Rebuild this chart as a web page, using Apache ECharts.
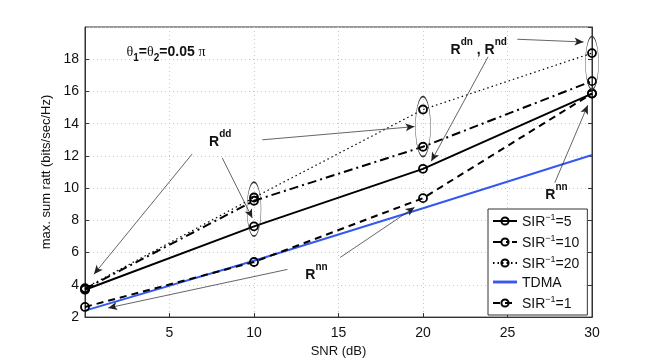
<!DOCTYPE html>
<html>
<head>
<meta charset="utf-8">
<script src="https://cdn.jsdelivr.net/npm/echarts@6/dist/echarts.min.js"></script>
<style>
  html, body { margin: 0; padding: 0; background: #fff; }
  #chart { width: 654px; height: 363px; }
</style>
</head>
<body>
<div id="chart"></div>
<script>
// values
const snr = [0, 10, 20, 30];
const sir5 = [3.7, 7.63, 11.2, 15.87];
const sir10 = [3.75, 9.22, 12.57, 16.64];
const sir20 = [3.8, 9.42, 14.88, 18.38];
const tdma = [2.4, 5.5, 8.75, 12.06];
const sir1 = [2.63, 5.42, 9.38, 15.87];

const yTicks = [2, 4, 6, 8, 10, 12, 14, 16, 18];
const xTicks = [5, 10, 15, 20, 25, 30];

// annotations in data units
const arrows = [
  [[6.34, 12.12], [0.53, 4.66]],
  [[8.12, 11.88], [9.9, 8.15]],
  [[10.49, 13.0], [19.5, 13.82]],
  [[25.58, 19.24], [29.5, 19.07]],
  [[23.85, 18.15], [20.49, 11.67]],
  [[27.8, 10.34], [29.75, 15.15]],
  [[11.98, 4.96], [1.37, 2.57]],
  [[15.1, 5.7], [19.5, 8.81]]
];
const ellipses = [
  { at: [10, 8.7], size: [14, 54] },
  { at: [20, 13.82], size: [15, 60] },
  { at: [30, 17.77], size: [13, 53] }
];
const notes = [
  { at: [8.0, 13.05], text: '{b|R}{s|dd}' },
  { at: [23.3, 18.75], text: '{b|R}{s|dn}{b| , R}{s|nd}' },
  { at: [27.9, 9.75], text: '{b|R}{s|nn}' },
  { at: [13.7, 4.78], text: '{b|R}{s|nn}' },
  { at: [4.8, 18.75], text: '{t|θ}{u|1}{b|=}{t|θ}{u|2}{b|=0.05 }{t|π}' }
];

const ellipsePath = 'path://M0,50 A50,50 0 1,1 100,50 A50,50 0 1,1 0,50 Z';
const richNote = {
  b: { fontSize: 14, fontWeight: 'bold', color: '#111', lineHeight: 20, verticalAlign: 'bottom', fontFamily: 'Liberation Sans' },
  s: { fontSize: 10, fontWeight: 'bold', color: '#111', lineHeight: 20, verticalAlign: 'top', fontFamily: 'Liberation Sans' },
  t: { fontSize: 14, color: '#111', lineHeight: 20, verticalAlign: 'bottom', fontFamily: 'Liberation Serif' },
  u: { fontSize: 10, fontWeight: 'bold', color: '#111', lineHeight: 24, verticalAlign: 'bottom', fontFamily: 'Liberation Sans', padding: [0, 0, -4, 0] }
};

const legendNames = {
  'SIR5': '{a|SIR}{s|−1}{a|=5}',
  'SIR10': '{a|SIR}{s|−1}{a|=10}',
  'SIR20': '{a|SIR}{s|−1}{a|=20}',
  'TDMA': '{a|TDMA}',
  'SIR1': '{a|SIR}{s|−1}{a|=1}'
};

function pairs(ys) {
  return snr.map((x, i) => [x, ys[i]]);
}

function lineSeries(name, ys, lineType, width, marker) {
  return {
    name: name,
    type: 'line',
    data: pairs(ys),
    symbol: marker ? 'circle' : 'none',
    symbolSize: 8,
    showAllSymbol: true,
    itemStyle: { color: 'rgba(0,0,0,0)', borderColor: '#000', borderWidth: 1.8 },
    lineStyle: { color: '#000', width: width, type: lineType },
    z: 3
  };
}

const chart = echarts.init(document.getElementById('chart'), null, { renderer: 'canvas' });

const s5 = lineSeries('SIR5', sir5, 'solid', 2, true);
s5.markLine = {
  silent: true,
  animation: false,
  symbol: ['none', 'arrow'],
  symbolSize: [6, 9],
  label: { show: false },
  lineStyle: { color: '#222', width: 0.7, type: 'solid' },
  emphasis: { disabled: true },
  data: arrows.map(a => [{ coord: a[0] }, { coord: a[1] }])
};
s5.markPoint = {
  silent: true,
  animation: false,
  data: ellipses.map(e => ({
    coord: e.at,
    symbol: ellipsePath,
    symbolSize: e.size,
    itemStyle: { color: 'rgba(0,0,0,0)', borderColor: '#333', borderWidth: 0.8 },
    label: { show: false }
  })).concat(notes.map(n => ({
    coord: n.at,
    symbol: 'circle',
    symbolSize: 0,
    label: { show: true, position: 'inside', formatter: n.text, rich: richNote }
  })))
};

const option = {
  animation: false,
  backgroundColor: '#fff',
  grid: {
    left: 85, right: 62, top: 27, bottom: 42,
    show: true, borderColor: '#333', borderWidth: 1, backgroundColor: '#fff'
  },
  legend: {
    orient: 'vertical',
    left: 488, top: 209,
    padding: [4, 8, 4, 4],
    itemWidth: 24, itemHeight: 9, itemGap: 5,
    borderColor: '#333', borderWidth: 1, borderRadius: 0,
    backgroundColor: '#fff',
    data: [
      { name: 'SIR5' },
      { name: 'SIR10' },
      { name: 'SIR20' },
      { name: 'TDMA', icon: 'path://M0,44 L100,44 L100,56 L0,56 Z', itemStyle: { color: '#3458f0', borderWidth: 0 } },
      { name: 'SIR1' }
    ],
    formatter: name => legendNames[name],
    textStyle: {
      rich: {
        a: { fontSize: 14, color: '#111', fontFamily: 'Liberation Sans', lineHeight: 16, verticalAlign: 'bottom' },
        s: { fontSize: 9, color: '#111', fontFamily: 'Liberation Sans', lineHeight: 16, verticalAlign: 'top' }
      }
    }
  },
  xAxis: {
    type: 'value',
    min: 0, max: 30, interval: 5,
    name: 'SNR (dB)',
    nameLocation: 'middle',
    nameGap: 23,
    nameTextStyle: { fontSize: 13, color: '#111', fontFamily: 'Liberation Sans' },
    axisLine: { show: true, onZero: false, lineStyle: { color: '#333' } },
    axisTick: { show: true, inside: true, length: 4, lineStyle: { color: '#333' } },
    axisLabel: {
      showMinLabel: false, fontSize: 14, color: '#111', margin: 9,
      fontFamily: 'Liberation Sans',
      formatter: v => (xTicks.indexOf(v) >= 0 ? String(v) : '')
    },
    splitLine: { show: true, lineStyle: { color: '#c8c8c8', type: [1, 3] } }
  },
  yAxis: [{
    type: 'value',
    min: 2, max: 20, interval: 2,
    name: 'max. sum ratt (bits/sec/Hz)',
    nameLocation: 'middle',
    nameGap: 30,
    nameTextStyle: { fontSize: 13, color: '#111', fontFamily: 'Liberation Sans' },
    axisLine: { show: true, lineStyle: { color: '#333' } },
    axisTick: { show: true, inside: true, length: 4, lineStyle: { color: '#333' } },
    axisLabel: {
      showMaxLabel: false, fontSize: 14, color: '#111', margin: 6,
      fontFamily: 'Liberation Sans',
      formatter: v => (yTicks.indexOf(v) >= 0 ? String(v) : '')
    },
    splitLine: { show: true, lineStyle: { color: '#c8c8c8', type: [1, 3] } }
  }, {
    type: 'value',
    position: 'right',
    min: 2, max: 20, interval: 2,
    axisLine: { show: true, lineStyle: { color: '#333' } },
    axisTick: { show: true, inside: true, length: 4, lineStyle: { color: '#333' } },
    axisLabel: { show: false },
    splitLine: { show: false }
  }],
  series: [
    s5,
    lineSeries('SIR10', sir10, [9, 4, 2, 4], 2, true),
    lineSeries('SIR20', sir20, [1.5, 3], 1.2, true),
    {
      name: 'TDMA',
      type: 'line',
      data: pairs(tdma),
      symbol: 'none',
      itemStyle: { color: '#3458f0' },
      lineStyle: { color: '#3458f0', width: 2 },
      z: 2
    },
    lineSeries('SIR1', sir1, [7, 5], 2, true)
  ]
};

chart.setOption(option);
</script>
</body>
</html>
